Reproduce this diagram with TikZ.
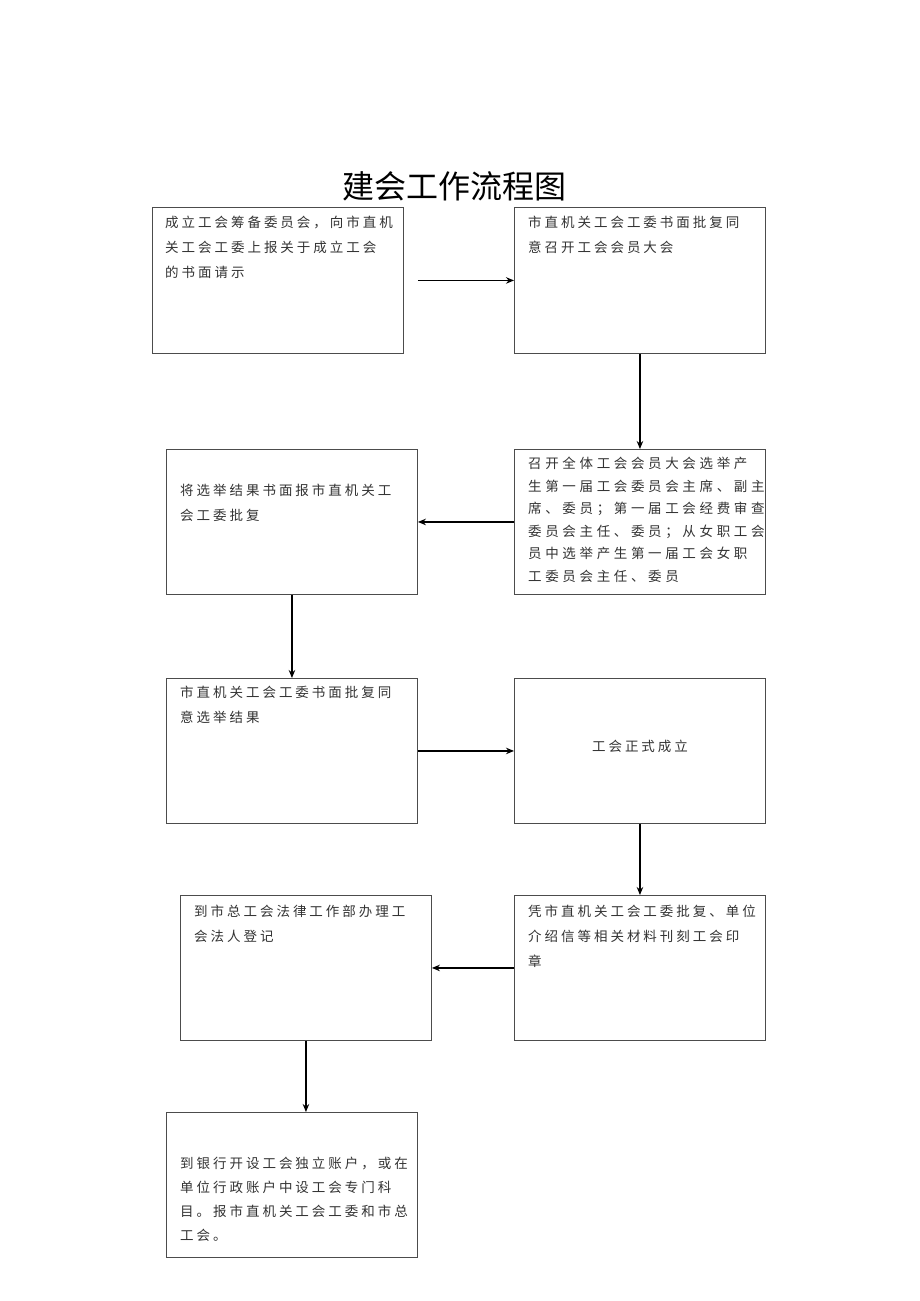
\documentclass[tikz,border=0pt]{standalone}
\usepackage{fontspec}
\newfontfamily\cjk{Noto Sans CJK SC}
\newfontfamily\cjks[LetterSpace=22]{Noto Sans CJK SC}
\newfontfamily\cjkw[LetterSpace=27]{Noto Sans CJK SC}
\usetikzlibrary{arrows.meta}
\begin{document}
\begin{tikzpicture}[x=1pt,y=-1pt,
 box/.style={draw=black!70, line width=0.9pt, minimum width=251pt, minimum height=146pt, inner sep=0pt, anchor=north west},
 txt/.style={anchor=north west, inner sep=0pt, align=left, font=\cjks\fontsize{13.5}{25}\selectfont, text=black!80},
 arr/.style={line width=1.3pt, -{Stealth[length=8pt,width=6.5pt]}}]
\useasboundingbox[fill=white] (0,0) rectangle (920,1301);
\node[font=\cjk\fontsize{32}{36}\selectfont, inner sep=0pt] (title) at (454,186) {建会工作流程图};
\node[box] (b1) at (152,207) {};
\node[box] (b2) at (514,207) {};
\node[box, minimum height=145pt] (b3) at (514,449) {};
\node[box, minimum height=145pt] (b4) at (166,449) {};
\node[box, minimum height=145pt] (b5) at (166,678) {};
\node[box, minimum height=145pt] (b6) at (514,678) {};
\node[box, minimum height=145pt] (b7) at (514,895) {};
\node[box, minimum height=145pt] (b8) at (180,895) {};
\node[box, minimum height=145pt] (b9) at (166,1112) {};
\node[txt] (t1) at (165,216) {成立工会筹备委员会，向市直机\\关工会工委上报关于成立工会\\的书面请示};
\node[txt] (t2) at (528,216) {市直机关工会工委书面批复同\\意召开工会会员大会};
\node[txt, font=\cjkw\fontsize{13.5}{22.5}\selectfont] (t3) at (528,457) {召开全体工会会员大会选举产\\生第一届工会委员会主席、副主\\席、委员；第一届工会经费审查\\委员会主任、委员；从女职工会\\员中选举产生第一届工会女职\\工委员会主任、委员};
\node[txt] (t4) at (180,484) {将选举结果书面报市直机关工\\会工委批复};
\node[txt] (t5) at (180,686) {市直机关工会工委书面批复同\\意选举结果};
\node[txt, anchor=center] (t6) at (640,746) {工会正式成立};
\node[txt] (t7) at (528,905) {凭市直机关工会工委批复、单位\\介绍信等相关材料刊刻工会印\\章};
\node[txt] (t8) at (194,905) {到市总工会法律工作部办理工\\会法人登记};
\node[txt, font=\cjks\fontsize{13.5}{24}\selectfont] (t9) at (180,1157) {到银行开设工会独立账户，或在\\单位行政账户中设工会专门科\\目。报市直机关工会工委和市总\\工会。};
\draw[arr] ([xshift=14pt]b1.east) -- (b2.west);
\draw[arr] (b2.south) -- (b3.north);
\draw[arr] (b3.west) -- (b4.east);
\draw[arr] (b4.south) -- (b5.north);
\draw[arr] (b5.east) -- (b6.west);
\draw[arr] (b6.south) -- (b7.north);
\draw[arr] (b7.west) -- (b8.east);
\draw[arr] (b8.south) -- (b8.south |- b9.north);
\end{tikzpicture}
\end{document}
